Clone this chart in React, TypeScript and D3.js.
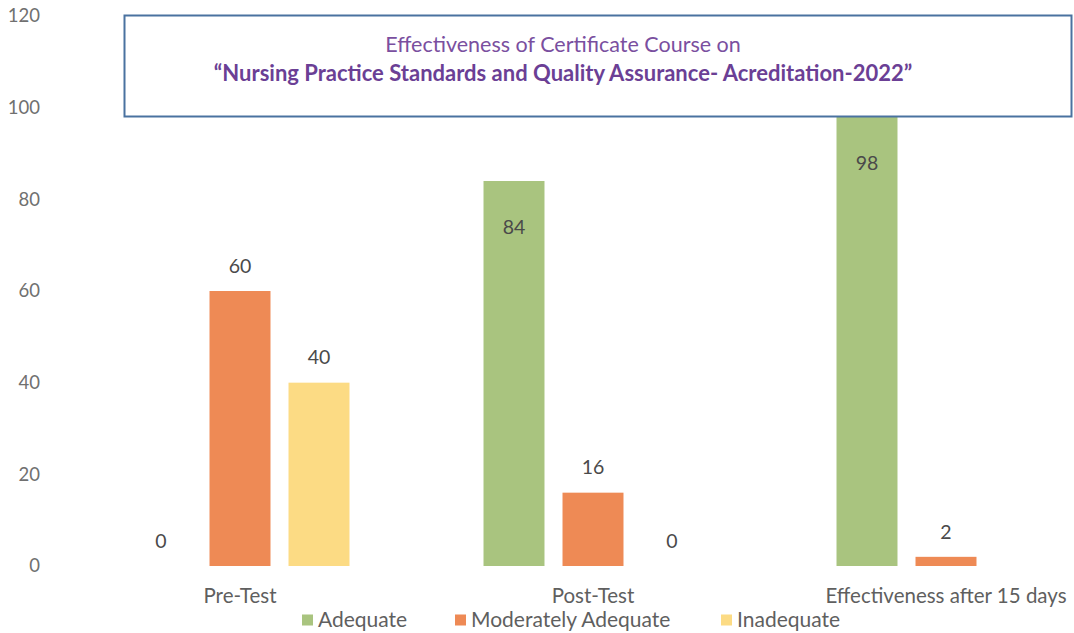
import React from 'react';
import * as d3 from 'd3';

const categories = ['Pre-Test', 'Post-Test', 'Effectiveness after 15 days'];
const seriesNames = ['Adequate', 'Moderately Adequate', 'Inadequate'];
const adequate = [0, 84, 98];
const moderatelyAdequate = [60, 16, 2];
const inadequate = [40, 0, 0];
const yTicks = [0, 20, 40, 60, 80, 100, 120];
const titleLine1 = 'Effectiveness of Certificate Course on';
const titleLine2 = '\u201CNursing Practice Standards and Quality Assurance- Acreditation-2022\u201D';

const colors: Record<string, string> = {
  'Adequate': '#a9c47f',
  'Moderately Adequate': '#ee8a55',
  'Inadequate': '#fcdb84',
};

const W = 1074;
const H = 633;
const font = 'Lato, "Liberation Sans", sans-serif';

const App: React.FC = () => {
  const values = [adequate, moderatelyAdequate, inadequate];

  const x0 = d3.scaleBand<string>()
    .domain(categories)
    .range([63.5, 1122.5])
    .padding(0);

  const step = x0.bandwidth();
  const x1 = d3.scaleBand<string>()
    .domain(seriesNames)
    .range([step / 2 - 118.5, step / 2 + 118.5])
    .paddingInner(0.228)
    .paddingOuter(0.114);

  const y = d3.scaleLinear()
    .domain([0, 120])
    .range([566, 16]);

  // the label of the last zero bar is not shown in the original
  const hiddenLabels = new Set(['Inadequate-2']);

  const legendItems = [
    { name: 'Adequate', x: 302 },
    { name: 'Moderately Adequate', x: 455 },
    { name: 'Inadequate', x: 721 },
  ];

  return (
    <svg width={W} height={H} style={{ position: 'absolute', left: 0, top: 0, background: '#fff' }} fontFamily={font}>
      {/* y axis labels */}
      {yTicks.map(t => (
        <text key={t} x={40} y={y(t)} dy="0.35em" textAnchor="end" fontSize={18.5} fill="#707070">{t}</text>
      ))}

      {/* bars */}
      {seriesNames.map((s, si) =>
        categories.map((c, ci) => {
          const v = values[si][ci];
          const bx = x0(c)! + x1(s)!;
          return (
            <rect key={`${s}-${ci}`} x={bx} y={y(v)} width={x1.bandwidth()} height={y(0) - y(v)} fill={colors[s]} />
          );
        })
      )}

      {/* data labels */}
      {seriesNames.map((s, si) =>
        categories.map((c, ci) => {
          const v = values[si][ci];
          if (hiddenLabels.has(`${s}-${ci}`)) return null;
          const cx = x0(c)! + x1(s)! + x1.bandwidth() / 2;
          const inside = s === 'Adequate' && v > 0;
          const ly = inside ? y(v) + 46 : y(v) - 25;
          return (
            <text key={`l-${s}-${ci}`} x={cx} y={ly} dy="0.35em" textAnchor="middle" fontSize={19.5} fill="#4a4a4a">{v}</text>
          );
        })
      )}

      {/* category labels */}
      {categories.map(c => (
        <text key={c} x={x0(c)! + step / 2} y={596} dy="0.35em" textAnchor="middle" fontSize={20.5} fill="#5f5f5f">{c}</text>
      ))}

      {/* legend */}
      {legendItems.map(l => (
        <g key={l.name} transform={`translate(${l.x},${620})`}>
          <rect x={0} y={-5.5} width={11} height={11} fill={colors[l.name]} />
          <text x={16} y={0} dy="0.35em" fontSize={21} fill="#5f5f5f">{l.name}</text>
        </g>
      ))}

      {/* title box */}
      <rect x={124.5} y={15.5} width={947} height={101} fill="#fff" stroke="#4a72a0" strokeWidth={2} />
      <text x={563} y={44} dy="0.35em" textAnchor="middle" fontSize={21.5} fill="#7a4f9f">{titleLine1}</text>
      <text x={563} y={73} dy="0.35em" textAnchor="middle" fontSize={22} fontWeight="bold" fill="#6b3f95">{titleLine2}</text>
    </svg>
  );
};

export default App;
